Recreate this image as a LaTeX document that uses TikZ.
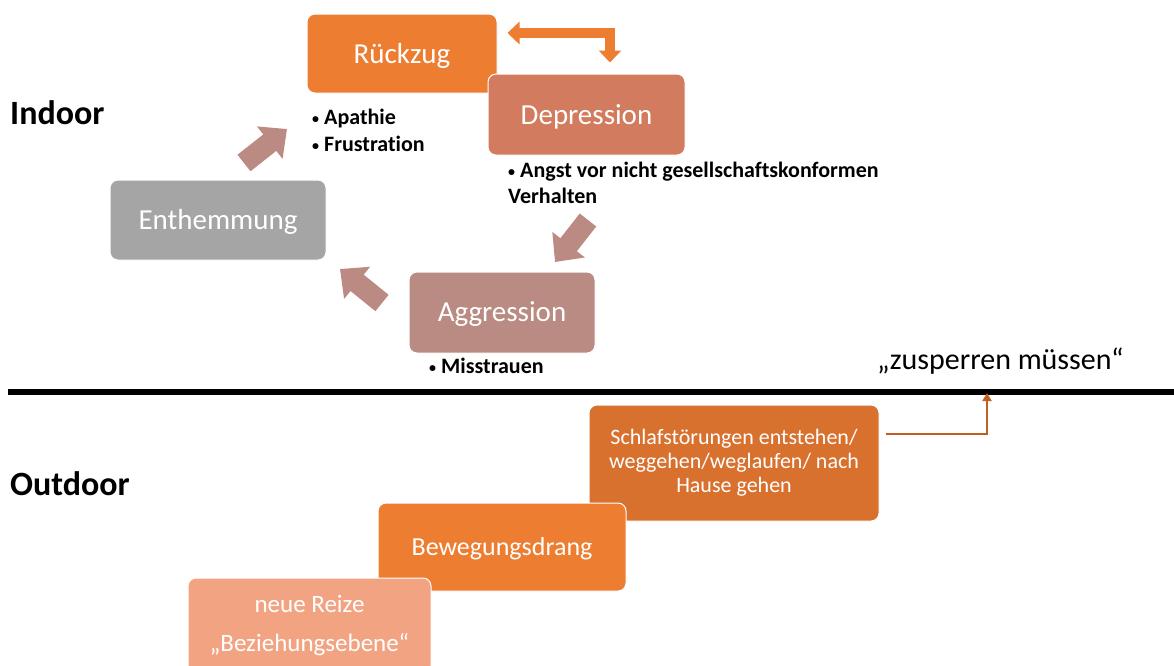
\documentclass[tikz,border=0pt]{standalone}
\usepackage{fontspec}
\setmainfont[Ligatures=NoCommon]{Carlito}
\usetikzlibrary{arrows.meta,calc}
\definecolor{cOrange}{HTML}{ED7D31}
\definecolor{cDep}{HTML}{D27B5E}
\definecolor{cGray}{HTML}{A5A5A5}
\definecolor{cAgg}{HTML}{B98B82}
\definecolor{cSch}{HTML}{D9712E}
\definecolor{cNeu}{HTML}{F2A482}
\definecolor{cBlk}{HTML}{BB8A82}
\definecolor{cCon}{HTML}{C0601F}
\newcommand{\smbul}{\makebox[12pt][l]{\raisebox{1pt}{\fontsize{14}{14}\selectfont •}}}
\newcommand{\lowr}[1]{\raisebox{-2pt}[\height][\depth]{#1}}
\tikzset{
  box/.style={rounded corners=8pt, draw=white, line width=1pt, text=white, inner sep=0pt, align=center, font=\fontsize{29}{34}\selectfont},
  bullet/.style={anchor=base west, inner sep=0pt, font=\bfseries\fontsize{22}{26}\selectfont},
  heading/.style={anchor=base west, inner sep=0pt, font=\bfseries\fontsize{34}{38}\selectfont},
  blockarrow/.style={draw=cBlk, line width=21pt, -{Triangle[width=40pt,length=22pt]}},
  bentarrow/.style={draw=cOrange, line width=10pt, line join=miter, {Triangle[width=22pt,length=12pt]}-{Triangle[width=22pt,length=12pt]}},
  conn/.style={draw=cCon, line width=2.2pt, -{Triangle[width=9pt,length=8pt]}}
}
\begin{document}
\begin{tikzpicture}[x=1pt,y=-1pt]
\useasboundingbox (0,0) rectangle (1174,665);
\clip (0,0) rectangle (1174,665);
% indoor boxes
\node[box, fill=cOrange, minimum width=190pt, minimum height=79pt] (rz) at (402,53.5) {\lowr{Rückzug}};
\node[box, fill=cDep, minimum width=197pt, minimum height=81pt] (dep) at (586.5,114.5) {\lowr{Depression}};
\node[box, fill=cGray, minimum width=216pt, minimum height=80pt] (ent) at (218,220) {\lowr{Enthemmung}};
\node[box, fill=cAgg, minimum width=186pt, minimum height=81pt] (agg) at (502,312.5) {\lowr{Aggression}};
% bullets
\node[bullet] (b1) at (312,124) {\smbul Apathie};
\node[bullet] (b2) at (312,151) {\smbul Frustration};
\node[bullet] (b3) at (508,177) {\smbul Angst vor nicht gesellschaftskonformen};
\node[bullet] (b4) at (508,203) {Verhalten};
\node[bullet] (b5) at (429,373) {\smbul Misstrauen};
% headings
\node[heading] (hin) at (10,124) {Indoor};
\node[heading] (hout) at (10,495) {Outdoor};
\node[anchor=base west, inner sep=0pt, font=\fontsize{30}{34}\selectfont] (zu) at (877,369) {„zusperren müssen“};
% block arrows
\coordinate (a1s) at (244,163); \coordinate (a1e) at (287,129);
\coordinate (a2s) at (588,220); \coordinate (a2e) at (555,262);
\coordinate (a3s) at (382,303); \coordinate (a3e) at (340,269);
\draw[blockarrow] (a1s) -- (a1e);
\draw[blockarrow] (a2s) -- (a2e);
\draw[blockarrow] (a3s) -- (a3e);
% bent double arrow
\coordinate (bA) at ($(rz.east)+(10,-20.5)$);
\coordinate (bB) at (610,33);
\coordinate (bC) at ($(dep.north)+(23.5,-11)$);
\draw[bentarrow] (bA) -- (bB) -- (bC);
% separator
\draw[line width=5.5pt] (8,392) -- (1174,392);
% outdoor boxes
\node[box, fill=cSch, minimum width=290pt, minimum height=116pt, font=\fontsize{22}{24}\selectfont] (sch) at (734,463) {Schlafstörungen entstehen/\\weggehen/weglaufen/ nach\\Hause gehen};
\node[box, fill=cOrange, minimum width=248pt, minimum height=88pt, font=\fontsize{26}{30}\selectfont] (bew) at (502,547) {\lowr{Bewegungsdrang}};
\node[box, fill=cNeu, minimum width=243pt, minimum height=96pt, font=\fontsize{25}{39}\selectfont] (neu) at (309.5,626) {neue Reize\\„Beziehungsebene“};
% connector
\coordinate (zt) at (987,393);
\draw[conn] ($(sch.east)+(6,-29)$) -| (zt);
\end{tikzpicture}
\end{document}
